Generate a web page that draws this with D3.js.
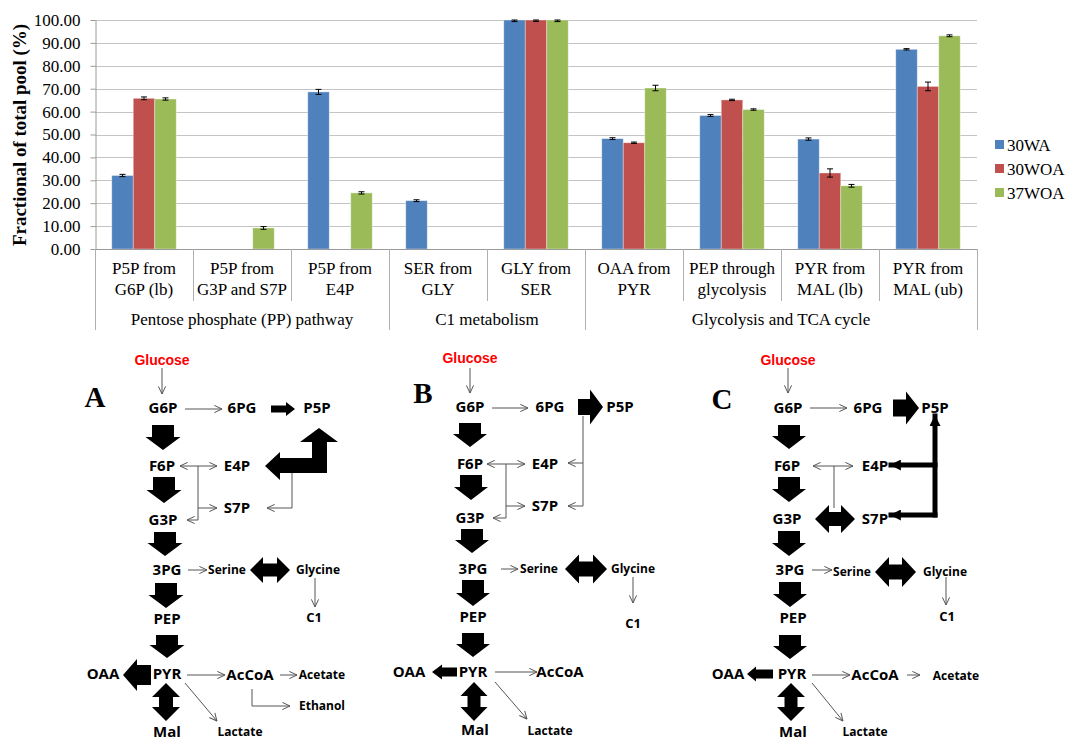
<!DOCTYPE html>
<html>
<head>
<meta charset="utf-8">
<script src="https://cdn.jsdelivr.net/npm/d3@7"></script>
<style>
  body { margin: 0; background: #fff; }
  svg { display: block; }
  .serif { font-family: "Liberation Serif", "Times New Roman", serif; fill: #000; }
  .met { font-family: "Open Sans", "Noto Sans", sans-serif; font-weight: 700; fill: #000; }
</style>
</head>
<body>
<div id="chart"></div>
<script>

// ---- bar chart data ----
var categories = ["P5P from\nG6P (lb)", "P5P from\nG3P and S7P", "P5P from\nE4P", "SER from\nGLY", "GLY from\nSER",
                  "OAA from\nPYR", "PEP through\nglycolysis", "PYR from\nMAL (lb)", "PYR from\nMAL (ub)"];
var groupNames = ["Pentose phosphate (PP) pathway", "C1 metabolism", "Glycolysis and TCA cycle"];
var groupSizes = [3, 2, 4];
var seriesNames = ["30WA", "30WOA", "37WOA"];
var values30WA  = [32.1, 0, 68.6, 21.1, 100, 48.2, 58.3, 48.0, 87.2];
var values30WOA = [65.8, 0, 0, 0, 100, 46.4, 65.1, 33.2, 71.0];
var values37WOA = [65.5, 9.2, 24.5, 0, 100, 70.3, 60.9, 27.6, 93.1];
var err30WA  = [0.5, 0, 1.1, 0.4, 0.7, 0.4, 0.4, 0.5, 0.3];
var err30WOA = [0.6, 0, 0, 0, 0.6, 0.3, 0.3, 1.8, 1.9];
var err37WOA = [0.5, 0.6, 0.5, 0, 0.7, 1.2, 0.3, 0.6, 0.4];
var yTicks = [0, 10, 20, 30, 40, 50, 60, 70, 80, 90, 100];
var colors = ["#4F81BD", "#C0504D", "#9BBB59"];

// ---- pathway diagrams ----
var panelNames = ["A", "B", "C"];
var smallNames = ["Serine", "Glycine", "Acetate", "Ethanol", "Lactate", "C1"];

// metabolite positions (label centres) for each panel
var nodesA = {Glucose:[162,360], G6P:[163,408], "6PG":[242,408], P5P:[317,408], F6P:[162,466], E4P:[237,466],
  S7P:[237,508], G3P:[163,520], "3PG":[167,570], Serine:[227,570], Glycine:[318,570], C1:[314,617],
  PEP:[167,619], PYR:[167,674], OAA:[103,674], AcCoA:[250,675], Acetate:[322,675], Ethanol:[322,706],
  Lactate:[240,732], Mal:[167,732]};
var nodesB = {Glucose:[470,358], G6P:[470,407], "6PG":[550,407], P5P:[620,407], F6P:[470,464], E4P:[545,464],
  S7P:[545,506], G3P:[470,518], "3PG":[473,569], Serine:[539,569], Glycine:[633,569], C1:[633,623],
  PEP:[473,617], PYR:[473,672], OAA:[409,672], AcCoA:[560,672], Lactate:[550,731], Mal:[475,730]};
var nodesC = {Glucose:[788,360], G6P:[788,408], "6PG":[868,408], P5P:[935,408], F6P:[787,466], E4P:[875,466],
  S7P:[875,519], G3P:[787,519], "3PG":[790,570], Serine:[852,572], Glycine:[945,572], C1:[947,616],
  PEP:[793,618], PYR:[792,674], OAA:[728,674], AcCoA:[875,675], Acetate:[956,676], Lactate:[865,732], Mal:[793,732]};
var letterPos = [[95,397], [423,393], [722,399]];

// flux arrows: thin = normal arrow, thin2 = double-headed, line = no head,
// block / dbl = thick block arrows [x1,y1,x2,y2] with [shaft, head, headLen]
var fluxA = [
  ["thin", [[162,368],[162,394]]],
  ["thin", [[185,409],[222,409]]],
  ["block", [271,409,295,409], [7,14,9]],
  ["block", [163,425,163,450], [22,35,13]],
  ["thin2", [[180,466],[217,466]]],
  ["line", [[198,466],[198,508]]],
  ["thin", [[198,508],[217,508]]],
  ["thin", [[198,508],[198,520],[187,520]]],
  ["shape", [[265,466],[280,452],[280,458],[312,458],[312,442],[300,442],[319,428],[338,442],[327,442],[327,473],[280,473],[280,480]]],
  ["thin", [[292,473],[292,508],[267,508]]],
  ["block", [164,477,164,503], [22,35,13]],
  ["block", [165,532,165,556], [22,35,13]],
  ["thin", [[188,570],[207,570]]],
  ["dbl", [250,570,290,570], [13,26,13]],
  ["thin", [[315,578],[315,607]]],
  ["block", [166,583,166,608], [22,35,13]],
  ["block", [167,635,167,658], [22,35,13]],
  ["block", [151,675,123,675], [20,32,14]],
  ["thin", [[187,675],[225,675]]],
  ["thin", [[280,675],[297,675]]],
  ["thin", [[252,689],[252,706],[290,706]]],
  ["thin", [[185,683],[217,721]]],
  ["dbl", [166,683,166,721], [14,28,14]]
];
var fluxB = [
  ["thin", [[470,368],[470,393]]],
  ["thin", [[492,408],[528,408]]],
  ["block", [578,407,603,407], [16,35,13]],
  ["thin", [[583,416],[583,506],[568,506]]],
  ["thin", [[583,463],[568,463]]],
  ["block", [470,423,470,447], [22,34,13]],
  ["thin2", [[487,464],[525,464]]],
  ["thin", [[506,464],[506,518],[493,518]]],
  ["thin", [[506,506],[525,506]]],
  ["block", [471,475,471,500], [22,34,13]],
  ["block", [472,529,472,553], [22,34,13]],
  ["thin", [[501,569],[518,569]]],
  ["dbl", [565,569,607,569], [15,29,14]],
  ["thin", [[633,577],[633,603]]],
  ["block", [473,580,473,606], [22,34,13]],
  ["block", [473,633,473,657], [22,34,13]],
  ["block", [457,672,432,672], [9,15,10]],
  ["thin", [[495,672],[537,672]]],
  ["thin", [[495,682],[527,719]]],
  ["dbl", [474,682,474,721], [13,27,14]]
];
var fluxC = [
  ["thin", [[788,368],[788,393]]],
  ["thin", [[810,408],[847,408]]],
  ["block", [893,408,919,408], [17,33,13]],
  ["thick", [[935,515],[935,416]]],
  ["thick", [[935,465],[891,465]]],
  ["thick", [[935,515],[891,515]]],
  ["block", [789,425,789,449], [22,34,13]],
  ["thin2", [[813,466],[853,466]]],
  ["line", [[834,466],[834,508]]],
  ["dbl", [815,519,855,519], [14,28,14]],
  ["block", [789,477,789,502], [22,34,13]],
  ["block", [789,531,789,556], [22,34,13]],
  ["thin", [[812,570],[832,570]]],
  ["dbl", [875,572,916,572], [15,30,14]],
  ["thin", [[946,577],[946,605]]],
  ["block", [790,582,790,607], [22,34,13]],
  ["block", [790,635,790,659], [22,34,13]],
  ["block", [773,674,747,674], [9,15,9]],
  ["thin", [[812,675],[850,675]]],
  ["thin", [[907,675],[920,675]]],
  ["thin", [[812,683],[843,721]]],
  ["dbl", [791,683,791,721], [13,28,14]]
];

var W = 1067, H = 740;
var svg = d3.select("#chart").append("svg").attr("width", W).attr("height", H);

// ================= bar chart =================
var series = [values30WA, values30WOA, values37WOA];
var errs = [err30WA, err30WOA, err37WOA];

var x0 = d3.scaleBand().domain(d3.range(categories.length)).range([95, 977]).padding(0);
var x1 = d3.scaleBand().domain(d3.range(seriesNames.length)).range([0, x0.bandwidth()])
    .paddingInner(0).paddingOuter(0.78);
var y = d3.scaleLinear().domain([0, 100]).range([249, 20]);

var chart = svg.append("g");

// gridlines
chart.selectAll(".grid").data(yTicks.slice(1)).enter().append("line")
    .attr("x1", 95).attr("x2", 977)
    .attr("y1", function(d) { return Math.round(y(d)) + 0.5; })
    .attr("y2", function(d) { return Math.round(y(d)) + 0.5; })
    .attr("stroke", "#c4c4c4").attr("stroke-width", 1);

// y axis
var yAxis = d3.axisLeft(y).tickValues(yTicks).tickSize(5).tickSizeOuter(0).tickPadding(10)
    .tickFormat(d3.format(".2f"));
var yg = chart.append("g").attr("transform", "translate(95.5,0)").call(yAxis);
yg.attr("font-family", null).attr("font-size", null);
yg.select(".domain").attr("stroke", "#9a9a9a");
yg.selectAll(".tick line").attr("stroke", "#9a9a9a");
yg.selectAll(".tick text").attr("class", "serif").style("font-size", "17px").attr("fill", "#000");

chart.append("text").attr("class", "serif")
    .attr("transform", "translate(26,135) rotate(-90)")
    .attr("text-anchor", "middle")
    .style("font-size", "18px").style("font-weight", "bold")
    .attr("textLength", 222).attr("lengthAdjust", "spacingAndGlyphs")
    .text("Fractional of total pool (%)");

// bars
var barData = [];
categories.forEach(function(c, i) {
  series.forEach(function(s, j) {
    barData.push({cat: i, ser: j, v: s[i], e: errs[j][i]});
  });
});

chart.selectAll(".bar").data(barData.filter(function(d) { return d.v > 0; })).enter().append("rect")
    .attr("class", "bar")
    .attr("x", function(d) { return x0(d.cat) + x1(d.ser); })
    .attr("y", function(d) { return y(d.v); })
    .attr("width", x1.bandwidth())
    .attr("height", function(d) { return y(0) - y(d.v); })
    .attr("fill", function(d) { return colors[d.ser]; })
    .attr("stroke", "rgba(255,255,255,0.45)").attr("stroke-width", 0.8);

// error bars
var eb = chart.selectAll(".err").data(barData.filter(function(d) { return d.v > 0; })).enter().append("g");
eb.each(function(d) {
  var g = d3.select(this);
  var cx = x0(d.cat) + x1(d.ser) + x1.bandwidth() / 2;
  var top = y(Math.min(100, d.v + d.e)), bot = y(d.v - d.e);
  g.append("line").attr("x1", cx).attr("x2", cx).attr("y1", top).attr("y2", bot).attr("stroke", "#000");
  g.append("line").attr("x1", cx - 3).attr("x2", cx + 3).attr("y1", top).attr("y2", top).attr("stroke", "#000");
  g.append("line").attr("x1", cx - 3).attr("x2", cx + 3).attr("y1", bot).attr("y2", bot).attr("stroke", "#000");
});

// x axis line + separators
chart.append("line").attr("x1", 95).attr("x2", 977).attr("y1", 249.5).attr("y2", 249.5).attr("stroke", "#9a9a9a");
var groupEdges = [0];
groupSizes.forEach(function(n, i) { groupEdges.push(groupEdges[i] + n); });
d3.range(categories.length + 1).forEach(function(i) {
  var xx = (i < categories.length ? x0(i) : x0.range()[1]);
  var isGroup = groupEdges.indexOf(i) >= 0;
  chart.append("line").attr("x1", Math.round(xx) + 0.5).attr("x2", Math.round(xx) + 0.5)
      .attr("y1", 249).attr("y2", isGroup ? 330 : 301)
      .attr("stroke", "#b0b0b0");
});

// category labels
chart.selectAll(".cat").data(categories).enter().append("text")
    .attr("class", "serif").style("font-size", "17px").attr("text-anchor", "middle")
    .each(function(d, i) {
      var t = d3.select(this);
      d.split("\n").forEach(function(line, k) {
        t.append("tspan").attr("x", x0(i) + x0.bandwidth() / 2).attr("y", 268 + k * 21).attr("dy", "0.35em").text(line);
      });
    });

// group labels
chart.selectAll(".grp").data(groupNames).enter().append("text")
    .attr("class", "serif").style("font-size", "17px").attr("text-anchor", "middle")
    .attr("x", function(d, i) { return (x0(groupEdges[i]) + (groupEdges[i + 1] < categories.length ? x0(groupEdges[i + 1]) : x0.range()[1])) / 2; })
    .attr("y", 319).attr("dy", "0.35em")
    .text(function(d) { return d; });

// legend
var legend = chart.selectAll(".leg").data(seriesNames).enter().append("g")
    .attr("transform", function(d, i) { return "translate(995," + [145, 169, 193][i] + ")"; });
legend.append("rect").attr("x", 0).attr("y", -5).attr("width", 9).attr("height", 9)
    .attr("fill", function(d, i) { return colors[i]; });
legend.append("text").attr("class", "serif").attr("x", 12).attr("dy", "0.35em")
    .style("font-size", "17px").text(function(d) { return d; });

// ================= pathway diagrams =================
var defs = svg.append("defs");
defs.append("marker").attr("id", "open").attr("viewBox", "0 0 10 10")
    .attr("refX", 9.5).attr("refY", 5).attr("markerUnits", "userSpaceOnUse")
    .attr("markerWidth", 9).attr("markerHeight", 9).attr("orient", "auto-start-reverse")
  .append("path").attr("d", "M1,1 L9.5,5 L1,9").attr("fill", "none")
    .attr("stroke", "#555").attr("stroke-width", 1.1);
defs.append("marker").attr("id", "solid").attr("viewBox", "0 0 10 10")
    .attr("refX", 9).attr("refY", 5).attr("markerUnits", "userSpaceOnUse")
    .attr("markerWidth", 11).attr("markerHeight", 11).attr("orient", "auto")
  .append("path").attr("d", "M0,0 L10,5 L0,10 Z").attr("fill", "#000");

function blockPath(len, s, h, hl, both) {
  if (both) {
    return "M0,0 L" + hl + "," + (-h / 2) + " L" + hl + "," + (-s / 2) + " L" + (len - hl) + "," + (-s / 2) +
      " L" + (len - hl) + "," + (-h / 2) + " L" + len + ",0 L" + (len - hl) + "," + (h / 2) +
      " L" + (len - hl) + "," + (s / 2) + " L" + hl + "," + (s / 2) + " L" + hl + "," + (h / 2) + " Z";
  }
  return "M0," + (-s / 2) + " L" + (len - hl) + "," + (-s / 2) + " L" + (len - hl) + "," + (-h / 2) +
    " L" + len + ",0 L" + (len - hl) + "," + (h / 2) + " L" + (len - hl) + "," + (s / 2) + " L0," + (s / 2) + " Z";
}

var lineGen = d3.line();

function drawPanel(nodes, flux, letter, lp) {
  var g = svg.append("g");

  flux.forEach(function(f) {
    var kind = f[0];
    if (kind === "thin" || kind === "thin2" || kind === "line") {
      var p = g.append("path").attr("d", lineGen(f[1])).attr("fill", "none")
          .attr("stroke", "#555").attr("stroke-width", 1);
      if (kind !== "line") p.attr("marker-end", "url(#open)");
      if (kind === "thin2") p.attr("marker-start", "url(#open)");
    } else if (kind === "thick") {
      g.append("path").attr("d", lineGen(f[1])).attr("fill", "none")
          .attr("stroke", "#000").attr("stroke-width", 5).attr("stroke-linecap", "square")
          .attr("marker-end", "url(#solid)");
    } else if (kind === "shape") {
      g.append("path").attr("d", lineGen(f[1]) + "Z").attr("fill", "#000");
    } else {
      var c = f[1], sz = f[2];
      var len = Math.hypot(c[2] - c[0], c[3] - c[1]);
      var ang = Math.atan2(c[3] - c[1], c[2] - c[0]) * 180 / Math.PI;
      g.append("path").attr("d", blockPath(len, sz[0], sz[1], sz[2], kind === "dbl"))
          .attr("transform", "translate(" + c[0] + "," + c[1] + ") rotate(" + ang + ")")
          .attr("fill", "#000");
    }
  });

  Object.keys(nodes).forEach(function(name) {
    var pos = nodes[name];
    var t = g.append("text").attr("x", pos[0]).attr("y", pos[1]).attr("dy", "0.36em")
        .attr("text-anchor", "middle").text(name);
    if (name === "Glucose") {
      t.style("font-family", "'Liberation Sans', Arial, sans-serif").style("font-weight", "bold")
       .style("font-size", "14px").attr("fill", "#ff0000");
    } else {
      t.attr("class", "met")
       .style("font-size", smallNames.indexOf(name) >= 0 ? (name === "C1" ? "13px" : "12px") : "15px");
    }
  });

  g.append("text").attr("class", "serif").attr("x", lp[0]).attr("y", lp[1]).attr("dy", "0.35em")
      .attr("text-anchor", "middle").style("font-size", "29px").style("font-weight", "bold")
      .text(letter);
}

drawPanel(nodesA, fluxA, panelNames[0], letterPos[0]);
drawPanel(nodesB, fluxB, panelNames[1], letterPos[1]);
drawPanel(nodesC, fluxC, panelNames[2], letterPos[2]);

</script>
</body>
</html>
